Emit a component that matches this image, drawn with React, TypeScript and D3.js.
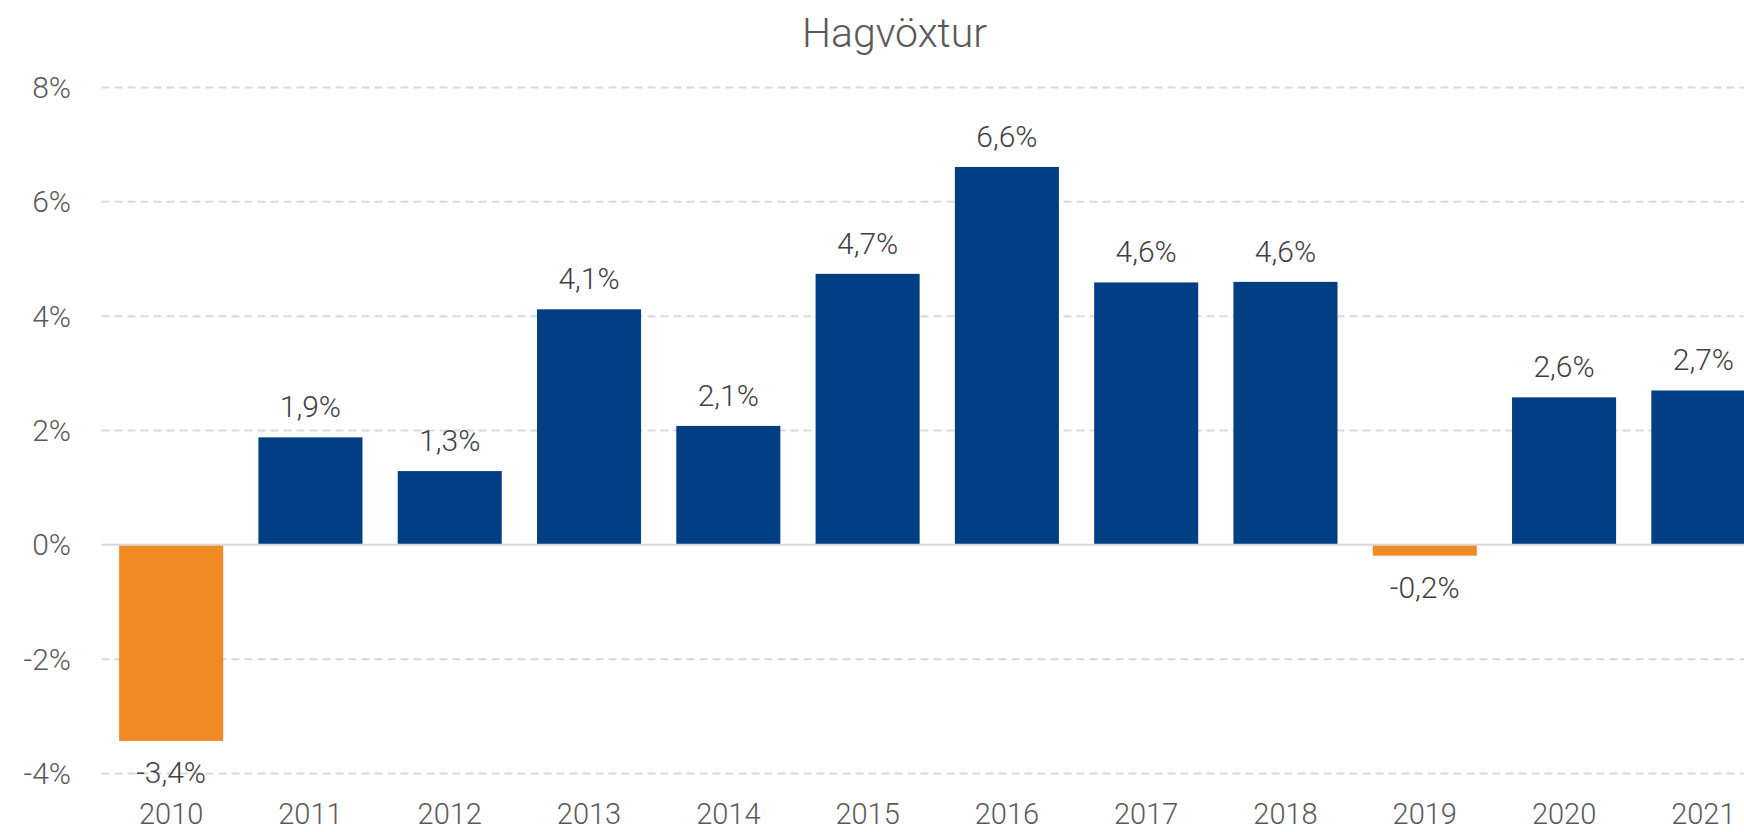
import React from "react";
import * as d3 from "d3";

const years = ["2010","2011","2012","2013","2014","2015","2016","2017","2018","2019","2020","2021"];
const growth = [-3.43, 1.88, 1.29, 4.12, 2.08, 4.74, 6.61, 4.59, 4.60, -0.19, 2.58, 2.70];
const yTicks = [-4, -2, 0, 2, 4, 6, 8];
const title = "Hagvöxtur";

const W = 1744;
const H = 832;
const FONT = "Roboto, 'Noto Sans', sans-serif";
const BLUE = "#023e84";
const ORANGE = "#f08a24";

const fmt = (v: number) => d3.format(".1f")(v).replace(".", ",").replace("−", "-") + "%";

export default function App() {
  const x = d3.scaleBand<string>().domain(years).range([101.5, 1773]).paddingInner(0.253).paddingOuter(0.1265);
  const y = d3.scaleLinear().domain([-4, 8]).range([773.5, 87.5]);
  const y0 = y(0);
  return (
    <svg width={W} height={H} style={{ position: "fixed", left: 0, top: 0, background: "#fff" }} fontFamily={FONT}>
      <rect width={W} height={H} fill="#fff" />
      <text x={894.5} y={46.5} textAnchor="middle" fontSize={41} fontWeight={300} fill="#595959">{title}</text>
      {yTicks.map((t) => (
        <g key={t}>
          {t !== 0 && (
            <line x1={101.5} x2={W} y1={y(t)} y2={y(t)} stroke="#d9d9d9" strokeWidth={2} strokeDasharray="8,5" />
          )}
          <text x={71} y={y(t)} dy="0.35em" textAnchor="end" fontSize={30} fontWeight={300} fill="#595959">{t + "%"}</text>
        </g>
      ))}
      {years.map((yr, i) => {
        const v = growth[i];
        const top = v >= 0 ? y(v) : y0;
        const h = Math.abs(y(v) - y0);
        const cx = (x(yr) as number) + x.bandwidth() / 2;
        return (
          <g key={yr}>
            <rect x={x(yr)} y={top} width={x.bandwidth()} height={h} fill={v >= 0 ? BLUE : ORANGE} />
            <text x={cx} y={v >= 0 ? y(v) - 20 : y(v) + 42} textAnchor="middle" fontSize={30} fontWeight={300} fill="#404040">{fmt(v)}</text>
            <text x={cx} y={824} textAnchor="middle" fontSize={29} fontWeight={300} fill="#595959">{yr}</text>
          </g>
        );
      })}
      <line x1={101.5} x2={W} y1={y0} y2={y0} stroke="#d9d9d9" strokeWidth={2} />
    </svg>
  );
}
